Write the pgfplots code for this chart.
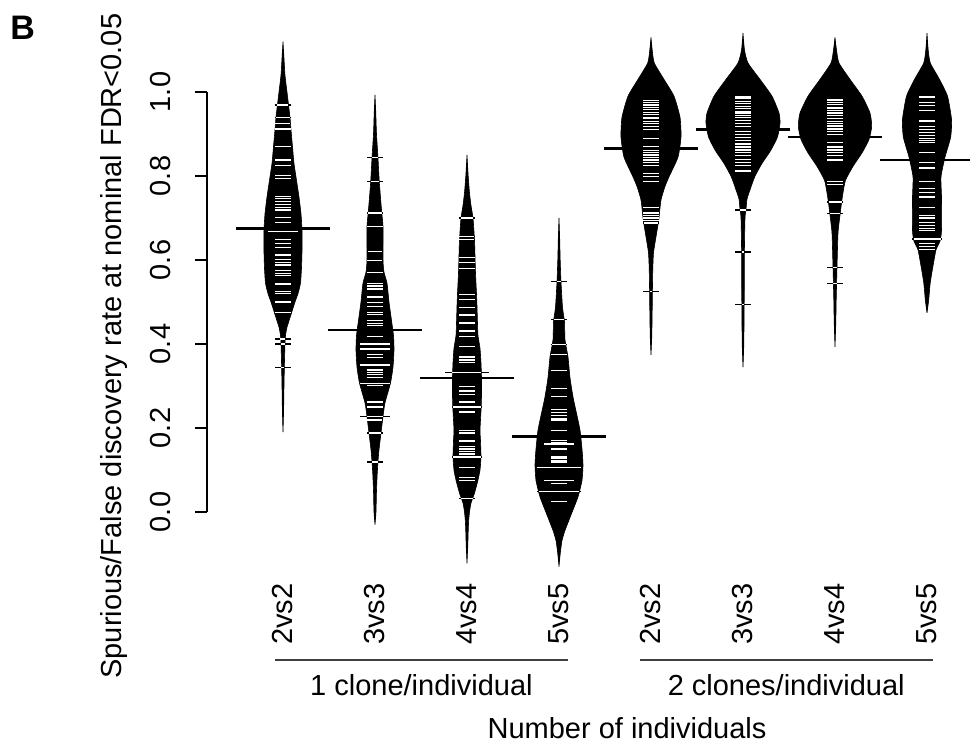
\documentclass[border=0pt]{standalone}
\usepackage{pgfplots}
\pgfplotsset{compat=1.18}
\usepgfplotslibrary{fillbetween}
\usepackage{pgfplotstable}
\usepackage{fontspec}
\setmainfont{Liberation Sans}
\newcommand\lab{\fontsize{14.5}{17.4}\selectfont}

% ---- bean outlines: y value and half width (px, 92 px per category) ----
\pgfplotstableread{
y w
0.19 0
0.24 0.6
0.30 1
0.36 1.5
0.40 2
0.42 2.5
0.44 4
0.47 8
0.50 12
0.52 15
0.545 17.5
0.58 18.5
0.62 19
0.67 19
0.71 18
0.75 16
0.79 13.5
0.83 11
0.87 9.5
0.91 8
0.94 7
0.97 5.5
1.00 4
1.04 2
1.08 1
1.12 0
}\beanA
\pgfplotstableread{
y w
-0.03 0
0.00 1
0.05 1.5
0.09 2.2
0.12 3
0.148 4
0.188 6
0.227 8
0.26 10
0.307 15.5
0.345 18
0.386 19
0.42 18.5
0.465 16
0.50 14
0.545 12
0.571 9
0.60 8
0.68 8
0.714 6.7
0.786 4.3
0.843 3
0.90 1.5
0.95 0.8
0.993 0
}\beanB
\pgfplotstableread{
y w
-0.122 0
-0.08 0.8
-0.04 1.3
-0.02 1.7
0.00 2.5
0.021 4
0.045 7.5
0.076 11
0.10 13
0.131 14
0.17 13.5
0.195 13
0.24 14
0.276 14.5
0.32 14.5
0.355 14
0.39 13
0.42 11
0.45 10.5
0.49 10
0.52 9.5
0.569 8.5
0.61 8
0.648 7.5
0.70 6
0.73 4
0.76 2.5
0.80 1.2
0.85 0
}\beanC
\pgfplotstableread{
y w
-0.13 0
-0.10 1.2
-0.068 3
-0.044 6
-0.004 12.5
0.036 19
0.075 23
0.112 24
0.15 23
0.195 21
0.235 17.5
0.274 14
0.32 11
0.369 9
0.41 6
0.452 5.5
0.488 3.5
0.548 2
0.60 1.2
0.65 0.7
0.70 0
}\beanD
\pgfplotstableread{
y w
0.374 0
0.42 0.8
0.48 1.2
0.524 1.4
0.58 1.8
0.617 2.5
0.648 4.5
0.695 7.7
0.743 10
0.775 14
0.798 18
0.845 27
0.893 30
0.94 29
0.99 23
1.03 13
1.069 3.3
1.10 1.2
1.13 0
}\beanE
\pgfplotstableread{
y w
0.345 0
0.40 0.8
0.50 1.2
0.62 1.4
0.70 2
0.72 3
0.745 4
0.767 7
0.798 11.7
0.83 19
0.86 27.5
0.893 34.5
0.926 37
0.95 36
0.99 29
1.03 17
1.069 5
1.10 1.5
1.14 0
}\beanF
\pgfplotstableread{
y w
0.393 0
0.45 0.8
0.505 1.2
0.583 2
0.664 3
0.707 5
0.736 6.5
0.76 8
0.79 10.5
0.823 18
0.855 27
0.887 34
0.918 36.7
0.95 35
0.99 27
1.03 15
1.069 4
1.10 1.5
1.13 0
}\beanG
\pgfplotstableread{
y w
0.474 0
0.505 1.7
0.545 3.2
0.583 5.8
0.624 9
0.645 13
0.67 14.5
0.75 14.5
0.798 14
0.845 18
0.893 23.7
0.935 24.5
0.99 20.5
1.03 12.5
1.069 3.3
1.10 1.2
1.14 0
}\beanH

% ---- bean lines: observed value, full half length L, white part W (px) ----
\pgfplotstableread{
y L W
0.969 8 5.5
0.940 8 7
0.924 8 7.5
0.912 8 8
0.871 8 8
0.838 8 8
0.824 8 8
0.802 8 8
0.795 8 8
0.752 8 8
0.747 8 8
0.740 8 8
0.733 8 8
0.726 8 8
0.719 8 8
0.702 8 8
0.690 8 8
0.667 15 15
0.648 8 8
0.640 8 8
0.629 8 8
0.612 8 8
0.602 8 8
0.595 8 8
0.588 8 8
0.586 8 8
0.576 8 8
0.567 8 8
0.564 8 8
0.545 8 8
0.542 8 8
0.526 8 8
0.521 8 8
0.500 8 8
0.476 8 8
0.412 8 2.5
0.400 8 2
0.343 8 1.5
}\linesA
\pgfplotstableread{
y L W
0.843 8 3
0.786 8 4.3
0.714 8 6.7
0.710 8 6.7
0.679 8 8
0.620 8 7
0.598 8 7.5
0.571 8 8
0.545 8 8
0.540 8 8
0.536 8 8
0.531 8 8
0.512 8 8
0.498 8 8
0.490 8 8
0.476 8 8
0.471 8 8
0.455 8 8
0.449 8 8
0.443 8 8
0.417 8 8
0.400 15 15
0.388 15 15
0.376 8 8
0.367 8 8
0.350 15 15
0.338 8 8
0.333 8 8
0.327 8 8
0.321 8 8
0.307 15 15
0.302 8 8
0.262 8 8
0.250 8 8
0.228 15 8
0.219 8 7.5
0.188 8 6
0.119 8 3
}\linesB
\pgfplotstableread{
y L W
0.700 8 6
0.657 8 7.5
0.648 8 7.5
0.605 8 8
0.593 8 8
0.579 8 8
0.517 8 8
0.507 8 8
0.486 8 8
0.469 8 8
0.450 8 8
0.431 8 8
0.417 8 8
0.395 8 8
0.369 8 8
0.362 8 8
0.355 8 8
0.333 22 14.5
0.321 8 8
0.298 8 8
0.288 8 8
0.279 8 8
0.262 8 8
0.250 15 14
0.238 8 8
0.195 8 8
0.188 8 8
0.169 8 8
0.155 8 8
0.150 8 8
0.144 8 8
0.138 8 8
0.131 15 14
0.107 8 8
0.083 8 8
0.076 8 8
0.033 8 6
}\linesC
\pgfplotstableread{
y L W
0.548 8 2
0.459 8 4.7
0.398 8 7
0.376 8 8
0.336 8 8
0.295 8 8
0.276 8 8
0.243 8 8
0.236 8 8
0.229 8 8
0.222 8 8
0.219 8 8
0.195 8 8
0.171 8 8
0.165 8 8
0.162 15 15
0.150 8 8
0.131 8 8
0.127 8 8
0.123 8 8
0.119 8 8
0.107 22 22
0.074 15 15
0.067 8 8
0.048 22 20
0.024 8 8
}\linesD
\pgfplotstableread{
y L W
0.979 8 8
0.974 8 8
0.969 8 8
0.964 8 8
0.958 8 8
0.952 8 8
0.947 8 8
0.940 8 8
0.936 8 8
0.930 8 8
0.925 8 8
0.918 8 8
0.910 8 8
0.890 8 8
0.869 8 8
0.862 8 8
0.857 8 8
0.850 8 8
0.845 8 8
0.838 8 8
0.833 8 8
0.824 8 8
0.807 8 8
0.798 8 8
0.786 8 8
0.724 8 8
0.714 8 8
0.710 8 8
0.705 8 8
0.700 8 7.8
0.693 8 7.6
0.688 8 7.3
0.524 8 1.4
}\linesE
\pgfplotstableread{
y L W
0.988 8 8
0.984 8 8
0.978 8 8
0.972 8 8
0.966 8 8
0.960 8 8
0.954 8 8
0.950 8 8
0.945 8 8
0.940 8 8
0.933 8 8
0.926 8 8
0.918 8 8
0.910 8 8
0.905 8 8
0.898 8 8
0.891 8 8
0.884 8 8
0.878 8 8
0.874 8 8
0.869 8 8
0.862 8 8
0.855 8 8
0.848 8 8
0.840 8 8
0.833 8 8
0.824 8 8
0.812 8 8
0.719 8 3
0.619 8 1.4
0.495 8 1.2
}\linesF
\pgfplotstableread{
y L W
0.981 8 8
0.976 8 8
0.970 8 8
0.962 8 8
0.957 8 8
0.950 8 8
0.943 8 8
0.936 8 8
0.929 8 8
0.926 8 8
0.919 8 8
0.912 8 8
0.905 8 8
0.898 8 8
0.893 8 8
0.879 8 8
0.869 8 8
0.862 8 8
0.855 8 8
0.848 8 8
0.838 8 8
0.786 8 8
0.779 8 8
0.738 8 6.5
0.710 8 5
0.583 8 2
0.543 8 1.6
}\linesG
\pgfplotstableread{
y L W
0.988 8 8
0.974 8 8
0.967 8 8
0.957 8 8
0.931 8 8
0.917 8 8
0.910 8 8
0.903 8 8
0.896 8 8
0.889 8 8
0.884 8 8
0.879 8 8
0.855 8 8
0.833 8 8
0.819 8 8
0.786 8 8
0.771 8 8
0.760 8 8
0.750 8 8
0.724 8 8
0.707 8 8
0.700 8 8
0.690 8 8
0.683 8 8
0.676 8 8
0.671 8 8
0.650 15 13.5
0.640 8 8
0.632 8 8
0.624 8 8
}\linesH

% ---- group means ----
\pgfplotstableread{
x y
1 0.675
2 0.433
3 0.319
4 0.179
5 0.866
6 0.910
7 0.893
8 0.838
}\means

% one bean: outer line parts, filled density, inner (white) line parts
\newcommand{\bean}[3]{%
  \addplot[black, line width=0.55pt, forget plot,
    quiver={u={2*\thisrow{L}/92}, v={0}}]
    table[x expr=#1-\thisrow{L}/92, y=y] {#3};
  \addplot[draw=none, smooth, tension=0.35, name path=r#1, forget plot]
    table[x expr=#1+\thisrow{w}/92, y=y] {#2};
  \addplot[draw=none, smooth, tension=0.35, name path=l#1, forget plot]
    table[x expr=#1-\thisrow{w}/92, y=y] {#2};
  \addplot[fill=black, draw=black, line width=0.3pt, forget plot] fill between[of=r#1 and l#1];
  \addplot[white, line width=0.55pt, forget plot,
    quiver={u={2*\thisrow{W}/92}, v={0}}]
    table[x expr=#1-\thisrow{W}/92, y=y] {#3};
}

\begin{document}
\begin{tikzpicture}
\begin{axis}[
  at={(0,0)}, anchor=south west,
  scale only axis, width=397.716pt, height=289.59pt,
  xmin=0.174, xmax=8.82, ymin=-0.16, ymax=1.219,
  clip=false,
  axis lines*=left,
  axis line style={draw=none},
  xtick={1,2,3,4,5,6,7,8},
  xticklabels={2vs2,3vs3,4vs4,5vs5,2vs2,3vs3,4vs4,5vs5},
  xtick style={draw=none},
  ytick={0,0.2,0.4,0.6,0.8,1},
  yticklabels={0.0,0.2,0.4,0.6,0.8,1.0},
  tick align=outside,
  major tick length=6pt,
  ytick style={black, line width=0.75pt},
  xticklabel style={rotate=90, anchor=east, inner sep=0pt, font=\lab},
  yticklabel style={rotate=90, anchor=south, inner sep=0pt, font=\lab},
  xticklabel shift=-4pt,
  yticklabel shift=12pt,
]
% left axis line, from 0 to 1 only
\addplot[black, line width=0.75pt, forget plot] coordinates {(0.174,0) (0.174,1)};

\bean{1}{\beanA}{\linesA}
\bean{2}{\beanB}{\linesB}
\bean{3}{\beanC}{\linesC}
\bean{4}{\beanD}{\linesD}
\bean{5}{\beanE}{\linesE}
\bean{6}{\beanF}{\linesF}
\bean{7}{\beanG}{\linesG}
\bean{8}{\beanH}{\linesH}

% average line of each bean
\addplot[black, line width=1.35pt, forget plot,
  quiver={u={1.022}, v={0}}]
  table[x expr=\thisrow{x}-0.511, y=y] {\means};

% group brackets and labels
\draw[black!75, line width=1pt] (axis cs:0.913,-0.352) -- (axis cs:4.098,-0.352);
\draw[black!75, line width=1pt] (axis cs:4.88,-0.352) -- (axis cs:8.065,-0.352);
\node[anchor=base, font=\lab] at (axis cs:2.505,-0.436) {1 clone/individual};
\node[anchor=base, font=\lab] at (axis cs:6.47,-0.436) {2 clones/individual};
\node[anchor=base, font=\lab] at (axis cs:4.74,-0.540) {Number of individuals};
\node[rotate=90, anchor=base, font=\lab] at (axis cs:-0.75,0.395)
  {Spurious/False discovery rate at nominal FDR<0.05};
\node[anchor=base west, inner sep=0pt, font=\fontsize{17}{20}\selectfont\bfseries] at (axis cs:-1.967,1.126) {B};
\end{axis}
\pgfresetboundingbox
\useasboundingbox (-103.5pt,-82.4pt) rectangle (381.5pt,289.6pt);
\end{tikzpicture}
\end{document}
